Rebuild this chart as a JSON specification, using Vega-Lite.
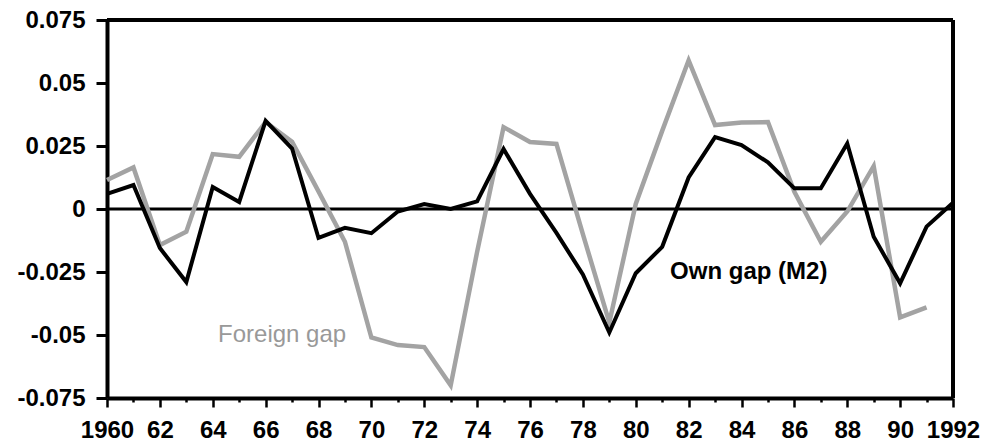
{
  "$schema": "https://vega.github.io/schema/vega-lite/v6.json",
  "width": 846,
  "height": 378,
  "autosize": {"type": "none"},
  "padding": {"left": 107, "top": 20, "right": 31, "bottom": 48},
  "background": "white",
  "config": {
    "view": {"stroke": null},
    "font": "Liberation Sans"
  },
  "datasets": {
    "gaps": [
      {"year": 1960, "series": "Own gap (M2)", "value": 0.006},
      {"year": 1961, "series": "Own gap (M2)", "value": 0.0095},
      {"year": 1962, "series": "Own gap (M2)", "value": -0.0155},
      {"year": 1963, "series": "Own gap (M2)", "value": -0.029},
      {"year": 1964, "series": "Own gap (M2)", "value": 0.0087},
      {"year": 1965, "series": "Own gap (M2)", "value": 0.0028},
      {"year": 1966, "series": "Own gap (M2)", "value": 0.035},
      {"year": 1967, "series": "Own gap (M2)", "value": 0.024},
      {"year": 1968, "series": "Own gap (M2)", "value": -0.0115},
      {"year": 1969, "series": "Own gap (M2)", "value": -0.0075},
      {"year": 1970, "series": "Own gap (M2)", "value": -0.0096},
      {"year": 1971, "series": "Own gap (M2)", "value": -0.001},
      {"year": 1972, "series": "Own gap (M2)", "value": 0.002},
      {"year": 1973, "series": "Own gap (M2)", "value": 0.0},
      {"year": 1974, "series": "Own gap (M2)", "value": 0.003},
      {"year": 1975, "series": "Own gap (M2)", "value": 0.0238},
      {"year": 1976, "series": "Own gap (M2)", "value": 0.006},
      {"year": 1977, "series": "Own gap (M2)", "value": -0.0095},
      {"year": 1978, "series": "Own gap (M2)", "value": -0.026},
      {"year": 1979, "series": "Own gap (M2)", "value": -0.049},
      {"year": 1980, "series": "Own gap (M2)", "value": -0.0255},
      {"year": 1981, "series": "Own gap (M2)", "value": -0.015},
      {"year": 1982, "series": "Own gap (M2)", "value": 0.0125},
      {"year": 1983, "series": "Own gap (M2)", "value": 0.0285},
      {"year": 1984, "series": "Own gap (M2)", "value": 0.0254},
      {"year": 1985, "series": "Own gap (M2)", "value": 0.0185},
      {"year": 1986, "series": "Own gap (M2)", "value": 0.0082},
      {"year": 1987, "series": "Own gap (M2)", "value": 0.0082},
      {"year": 1988, "series": "Own gap (M2)", "value": 0.026},
      {"year": 1989, "series": "Own gap (M2)", "value": -0.011},
      {"year": 1990, "series": "Own gap (M2)", "value": -0.0295},
      {"year": 1991, "series": "Own gap (M2)", "value": -0.007},
      {"year": 1992, "series": "Own gap (M2)", "value": 0.0025},
      {"year": 1960, "series": "Foreign gap", "value": 0.0115},
      {"year": 1961, "series": "Foreign gap", "value": 0.0165},
      {"year": 1962, "series": "Foreign gap", "value": -0.0143},
      {"year": 1963, "series": "Foreign gap", "value": -0.009},
      {"year": 1964, "series": "Foreign gap", "value": 0.0218},
      {"year": 1965, "series": "Foreign gap", "value": 0.0207},
      {"year": 1966, "series": "Foreign gap", "value": 0.0345},
      {"year": 1967, "series": "Foreign gap", "value": 0.0267},
      {"year": 1968, "series": "Foreign gap", "value": 0.007},
      {"year": 1969, "series": "Foreign gap", "value": -0.013},
      {"year": 1970, "series": "Foreign gap", "value": -0.051},
      {"year": 1971, "series": "Foreign gap", "value": -0.054},
      {"year": 1972, "series": "Foreign gap", "value": -0.0548},
      {"year": 1973, "series": "Foreign gap", "value": -0.07},
      {"year": 1974, "series": "Foreign gap", "value": -0.017},
      {"year": 1975, "series": "Foreign gap", "value": 0.0325},
      {"year": 1976, "series": "Foreign gap", "value": 0.0266},
      {"year": 1977, "series": "Foreign gap", "value": 0.0258},
      {"year": 1978, "series": "Foreign gap", "value": -0.01},
      {"year": 1979, "series": "Foreign gap", "value": -0.045},
      {"year": 1980, "series": "Foreign gap", "value": 0.002},
      {"year": 1981, "series": "Foreign gap", "value": 0.031},
      {"year": 1982, "series": "Foreign gap", "value": 0.059},
      {"year": 1983, "series": "Foreign gap", "value": 0.0333},
      {"year": 1984, "series": "Foreign gap", "value": 0.0343},
      {"year": 1985, "series": "Foreign gap", "value": 0.0345},
      {"year": 1986, "series": "Foreign gap", "value": 0.0068},
      {"year": 1987, "series": "Foreign gap", "value": -0.013},
      {"year": 1988, "series": "Foreign gap", "value": -0.001},
      {"year": 1989, "series": "Foreign gap", "value": 0.017},
      {"year": 1990, "series": "Foreign gap", "value": -0.043},
      {"year": 1991, "series": "Foreign gap", "value": -0.039}
    ],
    "labels": [
      {"label": "Own gap (M2)", "year": 1981.3, "value": -0.025},
      {"label": "Foreign gap", "year": 1964.2, "value": -0.05}
    ]
  },
  "encoding": {
    "x": {
      "field": "year",
      "type": "quantitative",
      "scale": {"domain": [1960, 1992], "nice": false, "zero": false},
      "axis": {
        "title": null,
        "grid": false,
        "values": [1960,1961,1962,1963,1964,1965,1966,1967,1968,1969,1970,1971,1972,1973,1974,1975,1976,1977,1978,1979,1980,1981,1982,1983,1984,1985,1986,1987,1988,1989,1990,1991,1992],
        "labelExpr": "datum.value == 1960 || datum.value == 1992 ? '' + datum.value : (datum.value % 2 == 0 ? substring('' + datum.value, 2, 4) : '')",
        "tickSize": {"condition": {"test": "datum.value % 2 == 0", "value": 9}, "value": 4},
        "tickWidth": 2.5,
        "tickColor": "black",
        "domainColor": "black",
        "domainWidth": 4,
        "labelFont": "Liberation Sans",
        "labelFontWeight": "bold",
        "labelFontSize": 24,
        "labelColor": "black",
        "labelPadding": 11,
        "labelOverlap": false,
        "labelFlush": false
      }
    },
    "y": {
      "field": "value",
      "type": "quantitative",
      "scale": {"domain": [-0.075, 0.075], "nice": false, "zero": false},
      "axis": {
        "title": null,
        "grid": false,
        "values": [-0.075, -0.05, -0.025, 0, 0.025, 0.05, 0.075],
        "labelExpr": "'' + datum.value",
        "tickSize": 11,
        "tickWidth": 3,
        "tickColor": "black",
        "domainColor": "black",
        "domainWidth": 4,
        "labelFont": "Liberation Sans",
        "labelFontWeight": "bold",
        "labelFontSize": 24,
        "labelColor": "black",
        "labelPadding": 11,
        "labelOverlap": false,
        "labelFlush": false
      }
    }
  },
  "layer": [
    {
      "data": {"values": [{"value": 0}]},
      "mark": {"type": "rule", "color": "black", "strokeWidth": 3},
      "encoding": {"x": null, "y": {"field": "value", "type": "quantitative"}}
    },
    {
      "data": {"values": [{"value": 0.075}]},
      "mark": {"type": "rule", "color": "black", "strokeWidth": 4},
      "encoding": {"x": null, "y": {"field": "value", "type": "quantitative"}}
    },
    {
      "data": {"values": [{"year": 1992}]},
      "mark": {"type": "rule", "color": "black", "strokeWidth": 4},
      "encoding": {"y": null, "x": {"field": "year", "type": "quantitative"}}
    },
    {
      "data": {"name": "gaps"},
      "transform": [{"filter": "datum.series == 'Foreign gap'"}],
      "mark": {"type": "line", "color": "#a3a3a3", "strokeWidth": 4.5, "strokeJoin": "miter"}
    },
    {
      "data": {"name": "gaps"},
      "transform": [{"filter": "datum.series == 'Own gap (M2)'"}],
      "mark": {"type": "line", "color": "black", "strokeWidth": 4, "strokeJoin": "miter"}
    },
    {
      "data": {"name": "labels"},
      "transform": [{"filter": "datum.label == 'Own gap (M2)'"}],
      "mark": {"type": "text", "align": "left", "baseline": "middle", "font": "Liberation Sans", "fontWeight": "bold", "fontSize": 24, "color": "black"},
      "encoding": {"text": {"field": "label"}}
    },
    {
      "data": {"name": "labels"},
      "transform": [{"filter": "datum.label == 'Foreign gap'"}],
      "mark": {"type": "text", "align": "left", "baseline": "middle", "font": "Liberation Sans", "fontSize": 24, "color": "#999999"},
      "encoding": {"text": {"field": "label"}}
    }
  ]
}
